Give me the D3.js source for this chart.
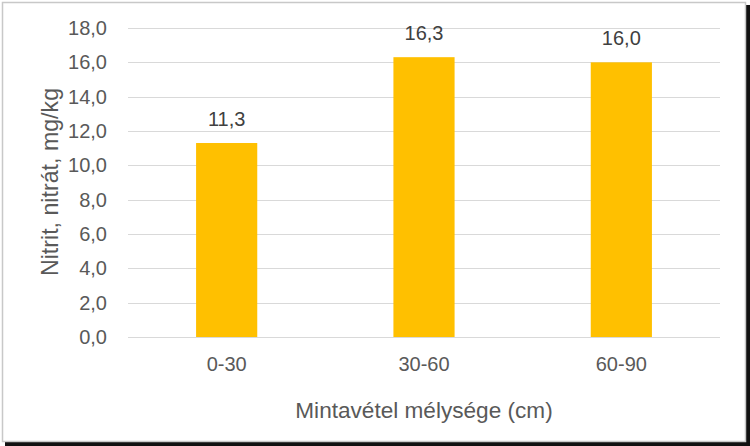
<!DOCTYPE html>
<html>
<head>
<meta charset="utf-8">
<script src="https://cdn.jsdelivr.net/npm/d3@7"></script>
<style>
html,body{margin:0;padding:0;background:#fff;}
svg{display:block;font-family:"Liberation Sans",Arial,sans-serif;}
</style>
</head>
<body>
<svg id="chart" width="750" height="446"></svg>
<script>
const categories = ["0-30", "30-60", "60-90"];
const values = [11.3, 16.3, 16.0];
const yTicks = [0, 2, 4, 6, 8, 10, 12, 14, 16, 18];
const xTitle = "Mintavétel mélysége (cm)";
const yTitle = "Nitrit, nitrát, mg/kg";

const svg = d3.select("#chart");
const fmt = v => d3.format(".1f")(v).replace(".", ",");

// frame with shadow
svg.append("rect").attr("x", 5).attr("y", 5).attr("width", 745).attr("height", 441).attr("fill", "#111");
svg.append("rect").attr("x", 2.5).attr("y", 2.5).attr("width", 743).attr("height", 439)
  .attr("fill", "#fff").attr("stroke", "#c8c8c8").attr("stroke-width", 1.5);

const x = d3.scaleBand().domain(categories).range([128, 720]).padding(0);
const y = d3.scaleLinear().domain([0, 18]).range([337, 28]);
const barW = x.bandwidth() * 0.31;

// gridlines
svg.append("g").selectAll("line").data(yTicks).join("line")
  .attr("x1", 128).attr("x2", 720)
  .attr("y1", d => Math.round(y(d)) + 0.5).attr("y2", d => Math.round(y(d)) + 0.5)
  .attr("stroke", "#d9d9d9").attr("stroke-width", 1);

// y tick labels
svg.append("g").selectAll("text").data(yTicks).join("text")
  .attr("x", 107).attr("y", d => y(d) + 7)
  .attr("text-anchor", "end").attr("font-size", 20).attr("fill", "#595959")
  .text(d => fmt(d));

// bars
svg.append("g").selectAll("rect").data(values).join("rect")
  .attr("x", (d, i) => x(categories[i]) + x.bandwidth() / 2 - barW / 2)
  .attr("width", barW)
  .attr("y", d => y(d))
  .attr("height", d => y(0) - y(d))
  .attr("fill", "#FFC000");

// data labels
svg.append("g").selectAll("text").data(values).join("text")
  .attr("x", (d, i) => x(categories[i]) + x.bandwidth() / 2)
  .attr("y", d => y(d) - 17)
  .attr("text-anchor", "middle").attr("font-size", 20).attr("fill", "#404040")
  .text(d => fmt(d));

// x category labels
svg.append("g").selectAll("text").data(categories).join("text")
  .attr("x", d => x(d) + x.bandwidth() / 2)
  .attr("y", 371)
  .attr("text-anchor", "middle").attr("font-size", 20).attr("fill", "#595959")
  .text(d => d);

// axis titles
svg.append("text").attr("x", 424).attr("y", 418)
  .attr("text-anchor", "middle").attr("font-size", 22.6).attr("fill", "#595959")
  .text(xTitle);

svg.append("text").attr("transform", "translate(58,182) rotate(-90)")
  .attr("text-anchor", "middle").attr("font-size", 23.2).attr("fill", "#595959")
  .text(yTitle);
</script>
</body>
</html>
